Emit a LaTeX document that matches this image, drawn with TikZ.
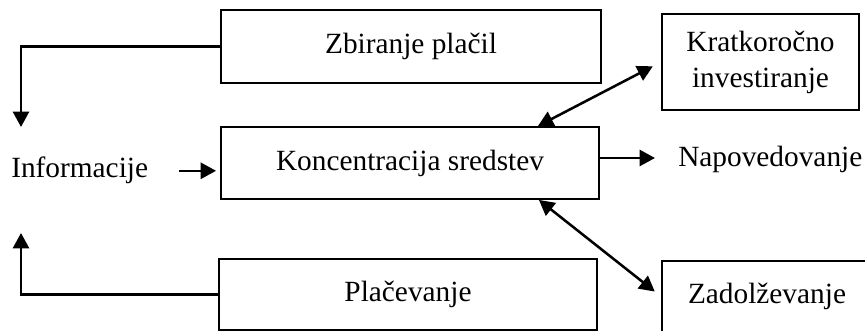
\documentclass[tikz,border=0pt]{standalone}
\usepackage{fontspec}
\setmainfont{Liberation Serif}
\usetikzlibrary{arrows.meta}

\begin{document}
\begin{tikzpicture}[x=0.75pt,y=0.75pt,yscale=-1,xscale=1,
            every node/.style={font=\fontsize{22}{27}\selectfont},
            box/.style={draw,line width=1.4pt,inner sep=0.75pt,align=center},
            arr/.style={line width=1.9pt,-{Triangle[length=11.5pt,width=12pt]}},
            dbl/.style={line width=1.9pt,{Triangle[length=11.5pt,width=12pt]}-{Triangle[length=11.5pt,width=12pt]}}]
            \clip (0,0) rectangle (865,331);

            \node[box,minimum width=285pt,minimum height=54.75pt] (zbir) at (411,46.5) {Zbiranje plačil};
            \node[box,minimum width=147.75pt,minimum height=72pt] (krat) at (760.5,62) {Kratkoročno\\investiranje};
            \node[box,minimum width=283.5pt,minimum height=54pt] (konc) at (410,163) {Koncentracija sredstev};
            \node[box,minimum width=283.5pt,minimum height=53.25pt] (plac) at (408,294.5) {Plačevanje};
            \node[box,minimum width=157.5pt,minimum height=53.25pt] (zado) at (767,296.5) {Zadolževanje};
            \node[inner sep=0.75pt,anchor=base west] (info) at (10,178) {Informacije};
            \node[inner sep=0.75pt,anchor=base west] (napo) at (677,167) {Napovedovanje};

            \coordinate (infotop) at (21,127);
            \coordinate (infobot) at (21,233);
            \draw[arr] (zbir.west) -| (infotop);
            \draw[arr] (plac.west) -| (infobot);
            \draw[arr,shorten <=22pt,shorten >=3pt] (info.east) -- (konc.west |- info.east);
            \draw[arr,shorten >=16.5pt] ([yshift=-3.75pt]konc.east) -- ([yshift=-3.75pt]konc.east -| napo.west);
            \draw[dbl,shorten >=7pt] ([xshift=-46.5pt]konc.north east) -- (krat.west);
            \draw[dbl,shorten >=6pt] ([xshift=-45.75pt]konc.south east) -- (zado.west);
        \end{tikzpicture}
\end{document}
